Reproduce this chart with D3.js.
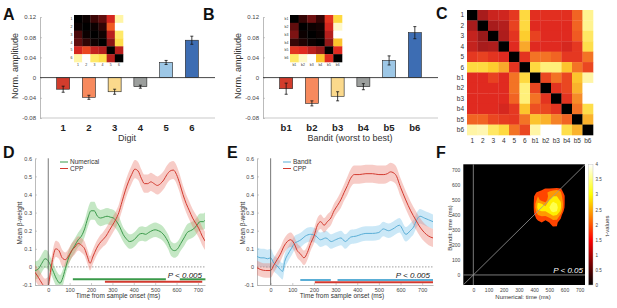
<!DOCTYPE html>
<html>
<head>
<meta charset="utf-8">
<script src="https://cdn.jsdelivr.net/npm/d3@7"></script>
<style>
body { margin: 0; background: #fff; }
svg { display: block; }
</style>
</head>
<body>
<script>
// ---------- data ----------
var digitLabels = ["1", "2", "3", "4", "5", "6"];
var digitAmp = [-0.023, -0.039, -0.028, -0.018, 0.030, 0.074];
var digitErr = [0.006, 0.004, 0.005, 0.003, 0.004, 0.008];

var banditLabels = ["b1", "b2", "b3", "b4", "b5", "b6"];
var banditAmp = [-0.022, -0.051, -0.037, -0.018, 0.034, 0.089];
var banditErr = [0.011, 0.005, 0.009, 0.006, 0.009, 0.012];

var barColors = ["#d23c2c", "#f78a5e", "#fbd98c", "#9c9f9d", "#9dc7e6", "#3d6db3"];
var ampTicks = [-0.08, -0.04, 0, 0.04, 0.08, 0.12];

// dissimilarity matrices (0 = black, 1 = white)
var digitRDM = [
  [0, 0.03, 0.15, 0.2, 0.38, 0.92],
  [0.03, 0, 0.03, 0.12, 0.5, 1.0],
  [0.17, 0.03, 0, 0.04, 0.33, 0.85],
  [0.2, 0.12, 0.04, 0, 0.26, 0.8],
  [0.38, 0.46, 0.35, 0.32, 0, 0.33],
  [0.92, 1.0, 0.85, 0.8, 0.33, 0]
];
var banditRDM = [
  [0, 0.13, 0.22, 0.13, 0.42, 0.78],
  [0.2, 0, 0.03, 0.05, 0.38, 0.95],
  [0.24, 0.03, 0, 0.03, 0.32, 1.0],
  [0.14, 0.08, 0.03, 0, 0.27, 0.72],
  [0.42, 0.4, 0.33, 0.28, 0, 0.4],
  [0.85, 0.95, 1.0, 0.72, 0.4, 0]
];
var combinedLabels = ["1", "2", "3", "4", "5", "6", "b1", "b2", "b3", "b4", "b5", "b6"];
var combinedRDM = [
  [0, .30, .36, .37, .43, .78, .41, .41, .41, .41, .52, .90],
  [.30, 0, .30, .32, .45, .78, .40, .40, .40, .40, .52, .90],
  [.35, .28, 0, .31, .42, .74, .45, .40, .40, .40, .50, .84],
  [.35, .30, .31, 0, .40, .66, .40, .40, .40, .38, .43, .80],
  [.43, .45, .42, .40, 0, .42, .55, .55, .52, .43, .43, .55],
  [.78, .78, .74, .66, .42, 0, .78, .88, .88, .72, .55, .46],
  [.40, .40, .45, .40, .55, .78, 0, .46, .55, .46, .72, .92],
  [.40, .40, .40, .40, .55, .88, .46, 0, .42, .46, .68, 1],
  [.40, .40, .40, .40, .52, .88, .55, .42, 0, .42, .60, 1],
  [.40, .40, .40, .38, .43, .72, .48, .46, .42, 0, .55, .80],
  [.52, .52, .46, .44, .43, .55, .72, .68, .58, .52, 0, .68],
  [.92, .93, .84, .78, .55, .46, .92, 1, 1, .80, .68, 0]
];

// D: numerical vs CPP beta weights
var numTimeD = [-62,-45,-30,-15,-5,10,25,40,55,65,80,95,110,125,140,155,170,185,200,215,230,245,260,275,290,305,320,335,350,365,380,395,410,425,440,455,470,485,500,515,530,545,560,575,590,605,620,635,650,665,680,695,710,725,735];
var numBetaD = [-0.02,-0.01,0.02,0.045,0.04,0.01,-0.03,-0.07,-0.09,-0.07,-0.01,0.05,0.09,0.12,0.15,0.17,0.21,0.27,0.31,0.31,0.28,0.27,0.275,0.28,0.275,0.27,0.25,0.22,0.18,0.155,0.14,0.145,0.16,0.18,0.185,0.18,0.19,0.2,0.205,0.2,0.19,0.17,0.14,0.1,0.09,0.1,0.13,0.16,0.19,0.2,0.21,0.23,0.25,0.25,0.26];
var numErrD = [0.05,0.05,0.05,0.05,0.05,0.045,0.045,0.045,0.045,0.045,0.04,0.04,0.04,0.04,0.04,0.045,0.045,0.05,0.05,0.05,0.045,0.045,0.045,0.045,0.045,0.045,0.045,0.045,0.04,0.04,0.04,0.04,0.04,0.04,0.04,0.04,0.04,0.04,0.04,0.04,0.04,0.04,0.04,0.04,0.04,0.04,0.04,0.045,0.045,0.045,0.045,0.045,0.045,0.045,0.045];
var cppTimeD = [-62,-45,-30,-15,0,10,20,35,50,65,80,95,110,125,140,155,170,185,195,210,225,240,255,270,285,300,315,330,345,360,375,390,405,420,435,450,465,480,495,510,525,540,555,570,585,600,615,630,645,660,675,690,705,720,735];
var cppBetaD = [-0.03,-0.06,-0.09,-0.11,-0.1,-0.03,0.04,0.1,0.09,0.05,0.04,0.06,0.09,0.11,0.13,0.12,0.1,0.05,0.02,0.06,0.1,0.13,0.15,0.17,0.2,0.23,0.26,0.3,0.36,0.42,0.47,0.51,0.54,0.53,0.49,0.46,0.46,0.47,0.46,0.45,0.46,0.48,0.51,0.53,0.535,0.51,0.46,0.4,0.35,0.31,0.27,0.24,0.21,0.17,0.14];
var cppErrD = [0.045,0.045,0.045,0.045,0.045,0.045,0.045,0.045,0.045,0.045,0.04,0.04,0.04,0.04,0.04,0.04,0.04,0.04,0.04,0.04,0.04,0.04,0.04,0.045,0.045,0.045,0.045,0.045,0.05,0.05,0.05,0.05,0.05,0.05,0.05,0.05,0.05,0.05,0.05,0.05,0.05,0.05,0.05,0.05,0.05,0.05,0.05,0.05,0.05,0.05,0.05,0.05,0.05,0.05,0.05];
var sigNumD = [[115, 550], [615, 735]];
var sigCppD = [[265, 720]];

// E: bandit vs CPP beta weights
var banTimeE = [-63,-45,-30,-15,0,15,30,45,55,65,80,95,110,125,140,160,185,210,230,255,280,300,325,345,370,395,420,440,470,500,520,545,565,595,625,645,660,675,690,710,730,750];
var banBetaE = [0.058,0.05,0.05,0.045,0.05,0.02,0.005,-0.015,-0.025,0.03,0.07,0.1,0.13,0.14,0.15,0.17,0.18,0.17,0.15,0.16,0.14,0.15,0.16,0.14,0.165,0.17,0.18,0.185,0.185,0.19,0.21,0.2,0.21,0.23,0.18,0.2,0.22,0.26,0.28,0.27,0.26,0.25];
var banErrE = [0.05,0.05,0.05,0.05,0.05,0.045,0.045,0.045,0.045,0.04,0.04,0.04,0.04,0.04,0.04,0.04,0.04,0.04,0.04,0.04,0.04,0.04,0.04,0.04,0.04,0.04,0.04,0.04,0.04,0.04,0.04,0.04,0.04,0.04,0.04,0.04,0.04,0.04,0.04,0.04,0.04,0.04];
var cppTimeE = [-63,-45,-23,0,15,30,45,62,77,93,108,123,139,154,170,185,200,216,231,247,262,278,293,309,324,339,355,370,386,409,440,470,500,523,539,554,577,600,624,647,670,690,710,730,750];
var cppBetaE = [-0.005,-0.015,-0.02,-0.02,0.01,0.04,0.07,0.115,0.14,0.15,0.13,0.09,0.07,0.05,0.08,0.13,0.17,0.23,0.25,0.23,0.25,0.27,0.31,0.34,0.37,0.41,0.45,0.49,0.51,0.51,0.515,0.515,0.51,0.51,0.515,0.525,0.51,0.44,0.37,0.31,0.26,0.22,0.19,0.17,0.16];
var cppErrE = [0.04,0.04,0.04,0.04,0.04,0.04,0.04,0.04,0.04,0.04,0.04,0.04,0.04,0.04,0.04,0.04,0.04,0.04,0.04,0.04,0.04,0.04,0.04,0.04,0.045,0.045,0.05,0.05,0.05,0.05,0.05,0.05,0.05,0.05,0.05,0.05,0.05,0.05,0.05,0.05,0.05,0.05,0.05,0.05,0.05];
var sigBanE = [[137, 278], [309, 750]];
var sigCppE = [[204, 750]];

var betaTicks = [-0.1, 0, 0.1, 0.2, 0.3, 0.4, 0.5, 0.6];
var timeTicks = [0, 100, 200, 300, 400, 500, 600, 700];

// F: t-values, numerical time (cols) x bandit time (rows, top = late)
var fNumTimes = [375, 400, 425, 450, 475, 500, 525, 550, 575, 600, 625];
var fBanTimes = [625, 600, 575, 550, 525, 500, 475, 450, 425, 400, 375, 350, 325, 300, 275];
var fTvals = [
  [0, 0, 0, 0, 0, 0, 0, 0, 0, 0, 0],
  [0, 0, 0, 0, 0, 0, 0, 0, 0, 0, 0],
  [0, 0, 0.8, 1.6, 2.0, 2.1, 2.2, 2.3, 2.1, 0.8, 0],
  [0, 1.5, 2.2, 2.4, 2.3, 2.5, 2.6, 2.6, 2.5, 1.6, 0],
  [0, 1.9, 2.4, 2.3, 2.0, 2.6, 2.9, 2.9, 2.6, 2.0, 0],
  [0, 2.0, 2.6, 2.2, 2.0, 2.9, 3.2, 3.1, 2.8, 2.0, 0],
  [0, 2.1, 3.0, 2.9, 2.7, 3.2, 3.4, 3.3, 3.0, 2.0, 0],
  [0, 2.1, 3.1, 3.2, 3.0, 3.3, 3.5, 3.4, 3.0, 1.9, 0],
  [0, 2.0, 2.8, 2.9, 2.9, 3.2, 3.4, 3.3, 2.8, 1.6, 0],
  [0, 1.8, 2.4, 2.5, 2.5, 2.7, 3.0, 2.9, 2.3, 1.0, 0],
  [0, 1.5, 2.2, 2.2, 2.1, 2.3, 2.5, 2.5, 1.9, 0.4, 0],
  [0, 0.6, 1.6, 1.9, 1.6, 1.9, 2.2, 2.1, 1.2, 0, 0],
  [0, 0, 0.3, 0.6, 0.5, 1.3, 2.0, 1.9, 0.5, 0, 0],
  [0, 0, 0, 0, 0, 0.4, 1.0, 0.8, 0, 0, 0],
  [0, 0, 0, 0, 0, 0, 0, 0, 0, 0, 0]
];
var fThresholds = [1.9, 2.4, 2.9, 3.3];
var fTimeTicks = [0, 100, 200, 300, 400, 500, 600, 700];
var tValTicks = [0, 0.5, 1, 1.5, 2, 2.5, 3, 3.5, 4];

// ---------- setup ----------
var FONT = "'Liberation Sans', Arial, Helvetica, sans-serif";
var w = 617, h = 308;

var svg = d3.select("body").append("svg")
    .attr("width", w).attr("height", h)
    .style("font-family", FONT);

var defs = svg.append("defs");

// colour maps
var rdmColor = d3.scaleLinear()
    .domain([0, 0.15, 0.3, 0.4, 0.5, 0.62, 0.75, 0.88, 1])
    .range(["#000000", "#3c0606", "#a81c1c", "#e02a20", "#f05a22", "#f7962a", "#fed22e", "#fff07a", "#ffffff"]);

function hot(t) {
  var c = function(v) { return Math.max(0, Math.min(1, v)); };
  return d3.rgb(255 * c(t / 0.375), 255 * c((t - 0.375) / 0.375), 255 * c((t - 0.75) / 0.25)) + "";
}

function letter(t, x, y) {
  svg.append("text").attr("x", x).attr("y", y).text(t)
    .attr("font-size", 16).attr("font-weight", "bold").attr("fill", "#111");
}

function styleAxis(g, fs) {
  g.attr("font-family", FONT).attr("font-size", fs);
  g.select(".domain").attr("stroke", "#aaa").attr("stroke-width", 0.8);
  g.selectAll(".tick line").attr("stroke", "#aaa").attr("stroke-width", 0.6);
  g.selectAll(".tick text").attr("fill", "#444");
}

function heatmap(m, labels, x0, y0, wd, ht, fs, gap) {
  var n = labels.length;
  var bx = d3.scaleBand().domain(d3.range(n)).range([x0, x0 + wd]);
  var by = d3.scaleBand().domain(d3.range(n)).range([y0, y0 + ht]);
  var cells = [];
  m.forEach(function(row, r) { row.forEach(function(v, c) { cells.push({r: r, c: c, v: v}); }); });
  var g = svg.append("g");
  g.selectAll("rect").data(cells).join("rect")
    .attr("x", function(d) { return bx(d.c); })
    .attr("y", function(d) { return by(d.r); })
    .attr("width", bx.bandwidth() + 0.3)
    .attr("height", by.bandwidth() + 0.3)
    .attr("fill", function(d) { return rdmColor(d.v); });
  g.selectAll(".rl").data(labels).join("text").attr("class", "rl")
    .attr("x", x0 - gap).attr("y", function(d, i) { return by(i) + by.bandwidth() / 2; })
    .attr("dy", "0.35em").attr("text-anchor", "end").attr("font-size", fs).attr("fill", "#333")
    .text(function(d) { return d; });
  g.selectAll(".cl").data(labels).join("text").attr("class", "cl")
    .attr("x", function(d, i) { return bx(i) + bx.bandwidth() / 2; })
    .attr("y", y0 + ht + gap + fs * 0.8)
    .attr("text-anchor", "middle").attr("font-size", fs).attr("fill", "#333")
    .text(function(d) { return d; });
}

// ---------- A, B: bar charts ----------
function barPanel(p) {
  var x = d3.scaleLinear().domain([0.1, 6.9]).range([p.left, p.left + 175]);
  var y = d3.scaleLinear().domain([-0.08, 0.12]).range([118, 17]);

  svg.append("line").attr("x1", p.left).attr("x2", p.left + 175)
    .attr("y1", y(-0.08)).attr("y2", y(-0.08)).attr("stroke", "#bbb").attr("stroke-width", 0.8);

  var ya = svg.append("g").attr("transform", "translate(" + p.left + ",0)")
    .call(d3.axisLeft(y).tickValues(ampTicks).tickSizeInner(-2).tickSizeOuter(0).tickPadding(4)
      .tickFormat(function(d) { return d === 0 ? "0" : d.toFixed(2); }));
  styleAxis(ya, 6);

  svg.append("g").selectAll("rect").data(p.amp).join("rect")
    .attr("x", function(d, i) { return x(i + 1) - 6.5; })
    .attr("width", 13)
    .attr("y", function(d) { return y(Math.max(0, d)); })
    .attr("height", function(d) { return Math.abs(y(d) - y(0)); })
    .attr("fill", function(d, i) { return barColors[i]; })
    .attr("stroke", "#222").attr("stroke-width", 0.6);

  var eb = svg.append("g").attr("stroke", "#111").attr("stroke-width", 0.8);
  p.amp.forEach(function(v, i) {
    var cx = x(i + 1), e = p.err[i];
    eb.append("line").attr("x1", cx).attr("x2", cx).attr("y1", y(v - e)).attr("y2", y(v + e));
    eb.append("line").attr("x1", cx - 1.5).attr("x2", cx + 1.5).attr("y1", y(v - e)).attr("y2", y(v - e));
    eb.append("line").attr("x1", cx - 1.5).attr("x2", cx + 1.5).attr("y1", y(v + e)).attr("y2", y(v + e));
  });

  svg.append("line").attr("x1", p.left).attr("x2", p.left + 175)
    .attr("y1", y(0)).attr("y2", y(0)).attr("stroke", "#333").attr("stroke-width", 0.9);

  svg.append("g").selectAll("text").data(p.labels).join("text")
    .attr("x", function(d, i) { return x(i + 1); }).attr("y", 131)
    .attr("text-anchor", "middle").attr("font-size", 9.5).attr("font-weight", "bold").attr("fill", "#222")
    .text(function(d) { return d; });

  svg.append("text").attr("x", p.titleX).attr("y", 141).attr("text-anchor", "middle")
    .attr("font-size", 9).attr("fill", "#333").text(p.title);

  svg.append("text").attr("transform", "translate(" + p.ytx + ",66) rotate(-90)")
    .attr("text-anchor", "middle").attr("dy", "0.35em").attr("font-size", 9).attr("fill", "#333")
    .text("Norm. amplitude");

  heatmap(p.rdm, p.labels, p.insetX, 15, p.insetW, 47, 3.5, 1.5);
}

letter("A", 3, 20);
barPanel({left: 40, amp: digitAmp, err: digitErr, labels: digitLabels, rdm: digitRDM,
  title: "Digit", titleX: 127, ytx: 15, insetX: 74, insetW: 49});

letter("B", 203, 20);
barPanel({left: 263, amp: banditAmp, err: banditErr, labels: banditLabels, rdm: banditRDM,
  title: "Bandit (worst to best)", titleX: 350, ytx: 238, insetX: 290, insetW: 52});

// ---------- C: combined matrix ----------
letter("C", 436, 19);
heatmap(combinedRDM, combinedLabels, 467, 10, 126, 125, 6.5, 3);

// ---------- D, E: beta-weight time courses ----------
function tracePanel(p) {
  var x = d3.scaleLinear().domain(p.xDom).range([p.left, p.right]);
  var y = d3.scaleLinear().domain([-0.1, 0.6]).range([285, 158.3]);
  var cid = "clip" + p.id;
  defs.append("clipPath").attr("id", cid).append("rect")
    .attr("x", p.left).attr("y", 158).attr("width", p.right - p.left).attr("height", 127);

  var xa = svg.append("g").attr("transform", "translate(0,285)")
    .call(d3.axisBottom(x).tickValues(timeTicks).tickSizeInner(-2).tickSizeOuter(0).tickPadding(3));
  styleAxis(xa, 5.5);
  var ya = svg.append("g").attr("transform", "translate(" + p.left + ",0)")
    .call(d3.axisLeft(y).tickValues(betaTicks).tickSizeInner(-2).tickSizeOuter(0).tickPadding(3)
      .tickFormat(function(d) { return d === 0 ? "0" : d.toFixed(1); }));
  styleAxis(ya, 5.5);

  svg.append("line").attr("x1", p.left).attr("x2", p.right).attr("y1", y(0)).attr("y2", y(0))
    .attr("stroke", "#777").attr("stroke-width", 0.7).attr("stroke-dasharray", "1.5,1.5");

  var plot = svg.append("g").attr("clip-path", "url(#" + cid + ")");
  p.series.forEach(function(s) {
    var pts = s.t.map(function(t, i) { return {t: t, v: s.v[i], e: s.e[i]}; });
    plot.append("path").datum(pts)
      .attr("d", d3.area().curve(d3.curveMonotoneX)
        .x(function(d) { return x(d.t); })
        .y0(function(d) { return y(d.v - d.e); })
        .y1(function(d) { return y(d.v + d.e); }))
      .attr("fill", s.fill).attr("fill-opacity", 0.4);
  });
  p.series.forEach(function(s) {
    var pts = s.t.map(function(t, i) { return {t: t, v: s.v[i]}; });
    plot.append("path").datum(pts)
      .attr("d", d3.line().curve(d3.curveMonotoneX)
        .x(function(d) { return x(d.t); })
        .y(function(d) { return y(d.v); }))
      .attr("fill", "none").attr("stroke", s.col).attr("stroke-width", 1);
  });

  svg.append("line").attr("x1", x(0)).attr("x2", x(0)).attr("y1", y(0.6)).attr("y2", y(-0.1))
    .attr("stroke", "#555").attr("stroke-width", 0.8);

  p.sig.forEach(function(s) {
    svg.append("g").selectAll("line").data(s.spans).join("line")
      .attr("x1", function(d) { return x(d[0]); }).attr("x2", function(d) { return x(d[1]); })
      .attr("y1", s.y).attr("y2", s.y).attr("stroke", s.col).attr("stroke-width", 2);
  });

  svg.append("text").attr("x", p.right - 3).attr("y", 278).attr("text-anchor", "end")
    .attr("font-size", 8).attr("font-style", "italic").attr("fill", "#222").text("P < 0.005");

  p.series.forEach(function(s, i) {
    var ly = 162 + i * 6.5;
    svg.append("line").attr("x1", p.legX).attr("x2", p.legX + 8).attr("y1", ly).attr("y2", ly)
      .attr("stroke", s.col).attr("stroke-width", 1);
    svg.append("text").attr("x", p.legX + 10).attr("y", ly).attr("dy", "0.35em")
      .attr("font-size", 6.5).attr("fill", "#333").text(s.name);
  });

  svg.append("text").attr("x", p.xtx).attr("y", 297.5).attr("text-anchor", "middle")
    .attr("font-size", 6.5).attr("fill", "#333").text("Time from sample onset (ms)");
  svg.append("text").attr("transform", "translate(" + p.ytx + ",223) rotate(-90)")
    .attr("text-anchor", "middle").attr("dy", "0.35em").attr("font-size", 6.5).attr("fill", "#333")
    .text("Mean \u03b2-weight");
}

letter("D", 3, 158);
tracePanel({id: "D", left: 35, right: 205, xDom: [-62, 733], legX: 60, xtx: 118, ytx: 20,
  series: [
    {name: "Numerical", t: numTimeD, v: numBetaD, e: numErrD, col: "#3a9a4a", fill: "#6cc46c"},
    {name: "CPP", t: cppTimeD, v: cppBetaD, e: cppErrD, col: "#d33a2f", fill: "#ec7f74"}
  ],
  sig: [
    {spans: sigNumD, col: "#3a9a4a", y: 279.3},
    {spans: sigCppD, col: "#d33a2f", y: 281.7}
  ]});

letter("E", 227, 158);
tracePanel({id: "E", left: 257, right: 433, xDom: [-63, 750], legX: 283, xtx: 342, ytx: 243,
  series: [
    {name: "Bandit", t: banTimeE, v: banBetaE, e: banErrE, col: "#5aaed6", fill: "#7cc6ea"},
    {name: "CPP", t: cppTimeE, v: cppBetaE, e: cppErrE, col: "#d33a2f", fill: "#ec7f74"}
  ],
  sig: [
    {spans: sigBanE, col: "#5aaed6", y: 280},
    {spans: sigCppE, col: "#d33a2f", y: 282.2}
  ]});

// ---------- F: cross-temporal t-map ----------
letter("F", 436, 158);
var fx = d3.scaleLinear().domain([-66, 735]).range([463.3, 585]);
var fy = d3.scaleLinear().domain([-67, 738]).range([285, 164.3]);

svg.append("rect").attr("x", fx.range()[0]).attr("y", fy.range()[1])
  .attr("width", fx.range()[1] - fx.range()[0]).attr("height", fy.range()[0] - fy.range()[1])
  .attr("fill", "#000");

var nx = fNumTimes.length, ny = fBanTimes.length;
var stepX = fNumTimes[1] - fNumTimes[0], stepY = fBanTimes[0] - fBanTimes[1];
var contours = d3.contours().size([nx, ny]).thresholds(fThresholds)(d3.merge(fTvals));
var proj = d3.geoTransform({
  point: function(gx, gy) {
    this.stream.point(fx(fNumTimes[0] + (gx - 0.5) * stepX), fy(fBanTimes[0] - (gy - 0.5) * stepY));
  }
});
svg.append("g").selectAll("path").data(contours).join("path")
  .attr("d", d3.geoPath(proj))
  .attr("fill", function(d) { return hot(d.value / 4); });

var fl = svg.append("g").attr("stroke", "#999").attr("stroke-width", 0.8);
fl.append("line").attr("x1", fx(0)).attr("x2", fx(0)).attr("y1", fy.range()[0]).attr("y2", fy.range()[1]);
fl.append("line").attr("x1", fx.range()[0]).attr("x2", fx.range()[1]).attr("y1", fy(0)).attr("y2", fy(0));
fl.append("line").attr("x1", fx(-66)).attr("y1", fy(-66)).attr("x2", fx(735)).attr("y2", fy(735));

svg.append("text").attr("x", 583).attr("y", 273).attr("text-anchor", "end")
  .attr("font-size", 8).attr("font-style", "italic").attr("fill", "#fff").text("P < 0.05");

var fxa = svg.append("g").attr("transform", "translate(0,285)")
  .call(d3.axisBottom(fx).tickValues(fTimeTicks).tickSize(0).tickPadding(3));
styleAxis(fxa, 5);
fxa.select(".domain").remove();
var fya = svg.append("g").attr("transform", "translate(463.3,0)")
  .call(d3.axisLeft(fy).tickValues(fTimeTicks).tickSize(0).tickPadding(3));
styleAxis(fya, 5);
fya.select(".domain").remove();

svg.append("text").attr("x", 523).attr("y", 299).attr("text-anchor", "middle")
  .attr("font-size", 6).attr("fill", "#333").text("Numerical: time (ms)");
svg.append("text").attr("transform", "translate(450,228) rotate(-90)")
  .attr("text-anchor", "middle").attr("dy", "0.35em").attr("font-size", 6).attr("fill", "#333")
  .text("Bandit: time (ms)");

// colour bar
var grad = defs.append("linearGradient").attr("id", "hotGrad")
  .attr("x1", 0).attr("y1", 1).attr("x2", 0).attr("y2", 0);
[0, 0.375, 0.75, 1].forEach(function(o) {
  grad.append("stop").attr("offset", o).attr("stop-color", hot(o));
});
var cy = d3.scaleLinear().domain([0, 4]).range([285, 164.3]);
svg.append("rect").attr("x", 588.5).attr("y", cy(4)).attr("width", 4.5).attr("height", cy(0) - cy(4))
  .attr("fill", "url(#hotGrad)").attr("stroke", "#bbb").attr("stroke-width", 0.4);
var cba = svg.append("g").attr("transform", "translate(593,0)")
  .call(d3.axisRight(cy).tickValues(tValTicks).tickSize(0).tickPadding(2.5).tickFormat(function(d) { return d; }));
styleAxis(cba, 4.5);
cba.select(".domain").remove();
svg.append("text").attr("transform", "translate(607,226) rotate(-90)")
  .attr("text-anchor", "middle").attr("dy", "0.35em").attr("font-size", 6).attr("fill", "#333")
  .text("t-values");
</script>
</body>
</html>
